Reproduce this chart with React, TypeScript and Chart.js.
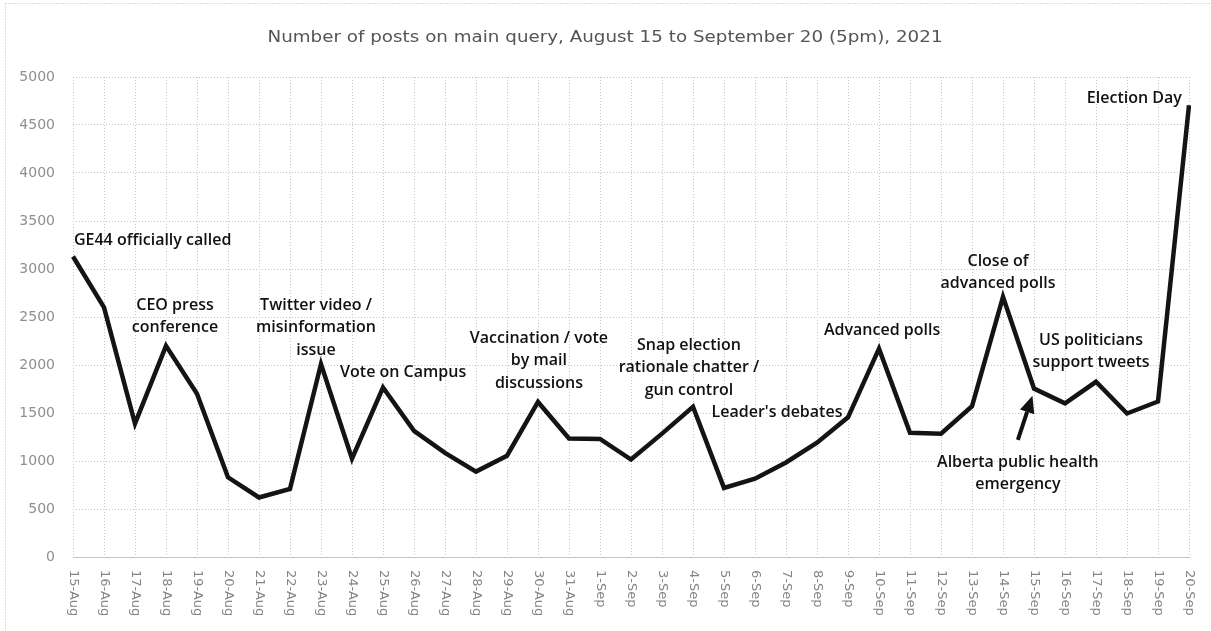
import React, { useEffect, useRef } from "react";
import { Chart, registerables } from "chart.js";

Chart.register(...registerables);

const TITLE = "Number of posts on main query, August 15 to September 20 (5pm), 2021";

const categories: string[] = [
  "15-Aug", "16-Aug", "17-Aug", "18-Aug", "19-Aug", "20-Aug", "21-Aug", "22-Aug", "23-Aug",
  "24-Aug", "25-Aug", "26-Aug", "27-Aug", "28-Aug", "29-Aug", "30-Aug", "31-Aug",
  "1-Sep", "2-Sep", "3-Sep", "4-Sep", "5-Sep", "6-Sep", "7-Sep", "8-Sep", "9-Sep", "10-Sep",
  "11-Sep", "12-Sep", "13-Sep", "14-Sep", "15-Sep", "16-Sep", "17-Sep", "18-Sep", "19-Sep", "20-Sep",
];

const posts: number[] = [
  3130, 2600, 1390, 2200, 1700, 830, 620, 710, 2010, 1025, 1765, 1315, 1085, 890, 1055, 1615, 1235,
  1230, 1015, 1285, 1565, 720, 815, 985, 1190, 1455, 2170, 1295, 1285, 1570, 2710, 1755, 1600, 1825,
  1495, 1620, 4705,
];

const yTicks: number[] = [0, 500, 1000, 1500, 2000, 2500, 3000, 3500, 4000, 4500, 5000];

// annotation anchors in data space: x = category index (fractional), y = value
const noteLines: string[][] = [
  ["GE44 officially called"],
  ["CEO press", "conference"],
  ["Twitter video /", "misinformation", "issue"],
  ["Vote on Campus"],
  ["Vaccination / vote", "by mail", "discussions"],
  ["Snap election", "rationale chatter /", "gun control"],
  ["Leader's debates"],
  ["Advanced polls"],
  ["Close of", "advanced polls"],
  ["US politicians", "support tweets"],
  ["Alberta public health", "emergency"],
  ["Election Day"],
];
const noteX: number[] = [0.03, 3.29, 7.84, 10.65, 15.03, 19.87, 22.71, 26.1, 29.84, 32.84, 30.48, 35.77];
const noteY: number[] = [3302, 2625, 2625, 1927, 2281, 2208, 1510, 2365, 3083, 2260, 990, 4781];
const noteAlign: string[] = ["left", "center", "center", "center", "center", "center", "center", "center", "center", "center", "center", "right"];

const arrowFrom: number[] = [30.48, 1219];
const arrowTo: number[] = [30.95, 1680];

export default function App() {
  const ref = useRef<HTMLCanvasElement | null>(null);

  useEffect(() => {
    if (!ref.current) return;
    const overlay = {
      id: "overlay",
      beforeDraw(chart: any) {
        const ctx = chart.ctx;
        ctx.save();
        ctx.strokeStyle = "#bdbdbd";
        ctx.lineWidth = 1;
        ctx.setLineDash([1, 2]);
        ctx.beginPath();
        ctx.moveTo(5.5, 3.5);
        ctx.lineTo(chart.width, 3.5);
        ctx.moveTo(5.5, 3.5);
        ctx.lineTo(5.5, chart.height);
        ctx.stroke();
        ctx.restore();
        // title (horizontally stretched like the source)
        ctx.save();
        ctx.fillStyle = "#555";
        ctx.font = "15px 'DejaVu Sans'";
        ctx.textAlign = "center";
        ctx.textBaseline = "middle";
        ctx.translate(605, 38);
        ctx.scale(1.22, 1);
        ctx.fillText(TITLE, 0, 0);
        ctx.restore();
      },
      afterDraw(chart: any) {
        const ctx = chart.ctx;
        const xs = chart.scales.x;
        const ys = chart.scales.y;
        const area = chart.chartArea;
        ctx.save();
        // rotated x labels (reading top to bottom)
        ctx.fillStyle = "#858585";
        ctx.font = "13px 'DejaVu Sans'";
        ctx.textAlign = "left";
        ctx.textBaseline = "middle";
        categories.forEach((c, i) => {
          const x = xs.getPixelForValue(i);
          ctx.save();
          ctx.translate(x, area.bottom + 13);
          ctx.rotate(Math.PI / 2);
          ctx.fillText(c, 0, 0);
          ctx.restore();
        });
        // annotations
        ctx.fillStyle = "#111";
        ctx.font = "600 16px 'Open Sans'";
        ctx.textBaseline = "middle";
        noteLines.forEach((lines, k) => {
          const x = xs.getPixelForValue(noteX[k]);
          const y0 = ys.getPixelForValue(noteY[k]);
          ctx.textAlign = noteAlign[k];
          lines.forEach((t, j) => ctx.fillText(t, x, y0 + j * 22.5));
        });
        // arrow
        const ax = xs.getPixelForValue(arrowFrom[0]);
        const ay = ys.getPixelForValue(arrowFrom[1]);
        const bx = xs.getPixelForValue(arrowTo[0]);
        const by = ys.getPixelForValue(arrowTo[1]);
        const ang = Math.atan2(by - ay, bx - ax);
        const hl = 17;
        const hw = 7.5;
        const cx = bx - hl * Math.cos(ang);
        const cy = by - hl * Math.sin(ang);
        ctx.strokeStyle = "#111";
        ctx.lineWidth = 4;
        ctx.beginPath();
        ctx.moveTo(ax, ay);
        ctx.lineTo(cx, cy);
        ctx.stroke();
        ctx.fillStyle = "#111";
        ctx.beginPath();
        ctx.moveTo(bx, by);
        ctx.lineTo(cx + hw * Math.sin(ang), cy - hw * Math.cos(ang));
        ctx.lineTo(cx - hw * Math.sin(ang), cy + hw * Math.cos(ang));
        ctx.closePath();
        ctx.fill();
        ctx.restore();
      },
    };

    const grid = "#c4c4c4";
    const chart = new Chart(ref.current, {
      type: "line",
      data: {
        labels: categories,
        datasets: [
          {
            data: posts,
            borderColor: "#141414",
            borderWidth: 4.5,
            pointRadius: 0,
            tension: 0,
            fill: false,
            borderJoinStyle: "miter",
          },
        ],
      },
      options: {
        responsive: false,
        animation: false,
        layout: { padding: { left: 0, right: 22, top: 77, bottom: 0 } },
        plugins: {
          legend: { display: false },
          tooltip: { enabled: false },
          title: { display: false },
        },
        scales: {
          x: {
            offset: false,
            grid: { color: grid, lineWidth: 1, drawTicks: false },
            border: { color: grid, dash: [1, 2] },
            ticks: {
              color: "rgba(0,0,0,0)",
              autoSkip: false,
              maxRotation: 90,
              minRotation: 90,
              font: { family: "'DejaVu Sans'", size: 12 },
            },
            afterFit(scale: any) {
              scale.height = 74;
            },
          },
          y: {
            min: 0,
            max: 5000,
            afterBuildTicks(scale: any) {
              scale.ticks = yTicks.map((v) => ({ value: v }));
            },
            grid: { color: grid, lineWidth: 1, drawTicks: false },
            border: { display: false, dash: [1, 2] },
            ticks: {
              color: "#8f8f8f",
              padding: 18,
              font: { family: "'DejaVu Sans'", size: 14 },
              callback: (v: any) => String(v),
            },
            afterFit(scale: any) {
              scale.width = 73;
            },
          },
        },
      } as any,
      plugins: [overlay],
    });
    return () => chart.destroy();
  }, []);

  return (
    <div style={{ position: "absolute", left: 0, top: 0, width: 1211, height: 631, background: "#fff" }}>
      <canvas ref={ref} width={1211} height={631} style={{ display: "block" }} />
    </div>
  );
}
